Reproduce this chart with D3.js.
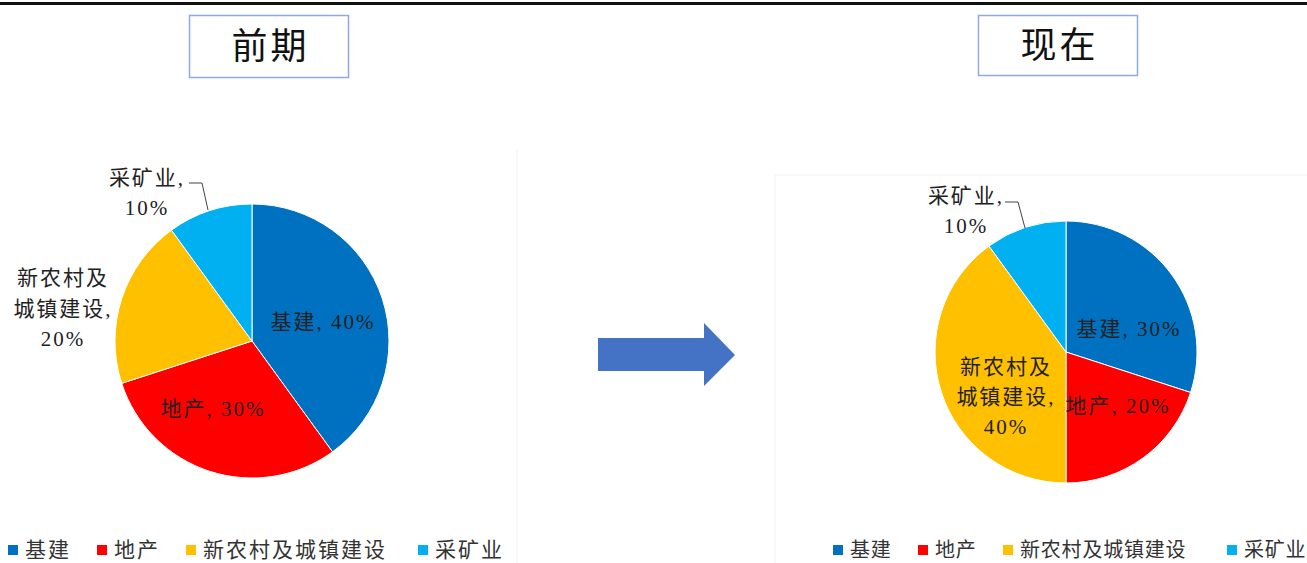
<!DOCTYPE html>
<html><head><meta charset="utf-8">
<script src="https://cdn.jsdelivr.net/npm/d3@7/dist/d3.min.js"></script>
<style>body{margin:0;background:#fff;}svg{display:block;}</style>
</head><body>
<svg id="c" width="1307" height="563"></svg>
<script>
const categories = ["基建", "地产", "新农村及城镇建设", "采矿业"];
const colors = ["#0070c0", "#ff0000", "#ffc000", "#00b0f0"];
const beforeValues = [40, 30, 20, 10];
const nowValues = [30, 20, 40, 10];
const titles = ["前期", "现在"];

const svg = d3.select("#c");
const FONT = "'Liberation Serif','Noto Sans CJK SC',serif";

// top rule
svg.append("rect").attr("x",0).attr("y",2).attr("width",1307).attr("height",3).attr("fill","#111");

// chart area frames (faint)
svg.append("path").attr("d","M517,150V563").attr("stroke","#f0f0f0").attr("fill","none");
svg.append("path").attr("d","M775,563V175H1307").attr("stroke","#f3f3f3").attr("fill","none");

// title boxes
const boxes = [{x:189,y:15,w:159,h:62},{x:978,y:15,w:159,h:60}];
boxes.forEach((b,i)=>{
  svg.append("rect").attr("x",b.x+0.5).attr("y",b.y+0.5).attr("width",b.w).attr("height",b.h)
    .attr("fill","#fff").attr("stroke","#8faadc").attr("stroke-width",1.5);
  svg.append("text").attr("x",b.x+b.w/2+2).attr("y",b.y+b.h/2+13).attr("text-anchor","middle")
    .attr("font-family","'Noto Sans CJK SC',sans-serif").attr("font-size",36).attr("letter-spacing",3)
    .attr("fill","#111").text(titles[i]);
});

function drawPie(values, cx, cy, r, labels, leader){
  const pie = d3.pie().sort(null).value(d=>d)(values);
  const arc = d3.arc().innerRadius(0).outerRadius(r);
  const g = svg.append("g").attr("transform",`translate(${cx},${cy})`);
  g.selectAll("path").data(pie).join("path").attr("d",arc)
    .attr("fill",(d,i)=>colors[i]).attr("stroke","#fff").attr("stroke-width",1);
  labels.forEach(l=>{
    const t = svg.append("text").attr("text-anchor","middle").attr("font-family",FONT)
      .attr("font-size",21).attr("letter-spacing",2).attr("fill","#222");
    l.lines.forEach((s,k)=>{
      t.append("tspan").attr("x",l.x).attr("y",l.y+k*l.lh).text(s);
    });
  });
  svg.append("path").attr("d",leader).attr("fill","none").attr("stroke","#444").attr("stroke-width",1);
}

function pct(v){return v+"%";}

drawPie(beforeValues, 252, 341, 137, [
  {x:323, y:329, lh:30, lines:[categories[0]+", "+pct(beforeValues[0])]},
  {x:213, y:416, lh:30, lines:[categories[1]+", "+pct(beforeValues[1])]},
  {x:63, y:285, lh:30.5, lines:["新农村及","城镇建设,",pct(beforeValues[2])]},
  {x:147, y:185, lh:30, lines:[categories[3]+",",pct(beforeValues[3])]}
], "M189,183H202L208,210");

drawPie(nowValues, 1066, 352, 131, [
  {x:1129, y:336, lh:30, lines:[categories[0]+", "+pct(nowValues[0])]},
  {x:1118, y:413, lh:30, lines:[categories[1]+", "+pct(nowValues[1])]},
  {x:1006, y:374, lh:30, lines:["新农村及","城镇建设,",pct(nowValues[2])]},
  {x:966, y:203, lh:29.5, lines:[categories[3]+",",pct(nowValues[3])]}
], "M1005,202H1018L1025,228");

// arrow
svg.append("path").attr("d","M598,338H704V323L735,355L704,386V371H598Z").attr("fill","#4472c4");

// legends
function legend(xs, y, fs, ls){
  categories.forEach((c,i)=>{
    svg.append("rect").attr("x",xs[i]).attr("y",y-5).attr("width",10).attr("height",10).attr("fill",colors[i]);
    svg.append("text").attr("x",xs[i]+17).attr("y",y+7).attr("font-family",FONT).attr("font-size",fs)
      .attr("letter-spacing",ls).attr("fill","#333").text(c);
  });
}
legend([8,97,186,418], 550, 21, 2);
legend([833,918,1003,1227], 550, 20, 0.8);
</script>
</body></html>
